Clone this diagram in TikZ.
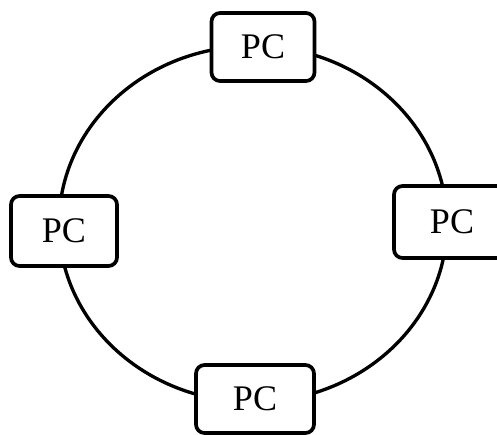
\documentclass[tikz,border=0pt]{standalone}
\usepackage{fontspec}
\setmainfont{Liberation Serif}

\tikzset{
	pcbox/.style={draw, fill=white, line width=2.1pt, rounded corners=0.17cm,
		minimum height=1.36cm, font=\fontsize{20.5}{24}\selectfont}
}

\begin{document}
\begin{tikzpicture}[x=0.02cm, y=-0.02cm]

	\clip (0,0) rectangle (497,434);
	\useasboundingbox (0,0) rectangle (497,434);

	\draw[line width=1.9pt] (253,224) ellipse [x radius=194, y radius=178];

	\node[pcbox, minimum width=2.06cm] (pctop) at (263,47) {PC};

	\node[pcbox, minimum width=2.12cm, minimum height=1.4cm] (pcleft) at (64,231) {PC};

	\node[pcbox, minimum width=2.32cm, minimum height=1.44cm] (pcright) at (452,222) {PC};

	\node[pcbox, minimum width=2.36cm] (pcbottom) at (255,399) {PC};

\end{tikzpicture}
\end{document}
